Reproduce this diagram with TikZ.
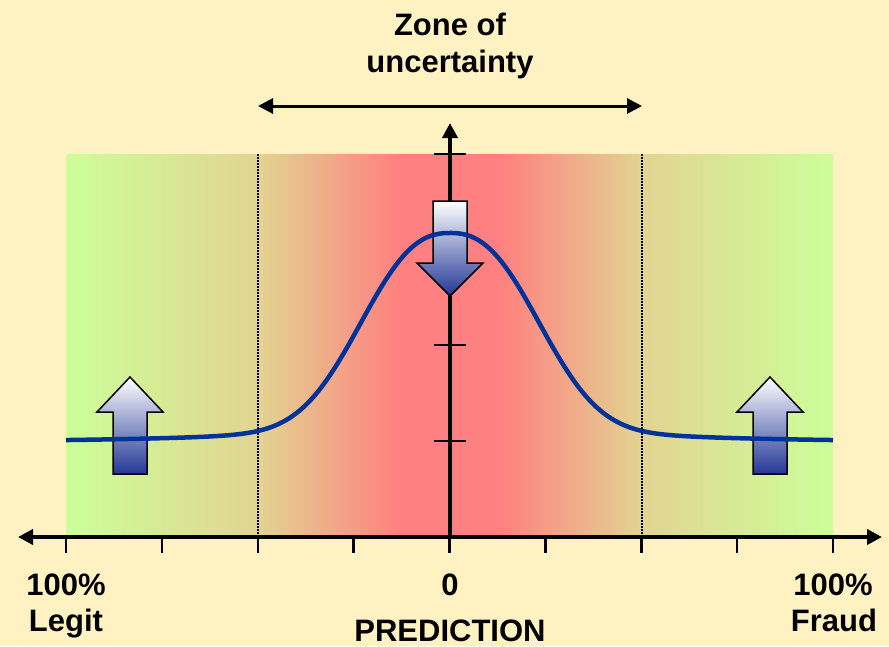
\documentclass[tikz,border=0pt]{standalone}
\usepackage{fontspec}
\setmainfont{Liberation Sans}
\usetikzlibrary{arrows.meta}
\definecolor{bgcream}{RGB}{255,242,194}
\definecolor{zgreen}{RGB}{204,255,153}
\definecolor{ztan}{RGB}{226,212,145}
\definecolor{zred}{RGB}{255,128,128}
\definecolor{curveblue}{RGB}{0,51,153}
\definecolor{arrowblue}{RGB}{35,55,150}
\pgfdeclarehorizontalshading{zoneshade}{100bp}{color(0bp)=(zgreen); color(25bp)=(zgreen); color(37.52bp)=(ztan); color(46.77bp)=(zred); color(53.29bp)=(zred); color(62.55bp)=(ztan); color(75bp)=(zgreen); color(100bp)=(zgreen)}
\begin{document}
\begin{tikzpicture}[x=1pt,y=-1pt,
  lbl/.style={font=\bfseries\fontsize{31}{37}\selectfont, inner sep=0pt, anchor=base},
  axisline/.style={line width=4pt, -{Triangle[length=15pt,width=15pt]}},
  tickline/.style={line width=2.5pt},
  zonearrow/.style={line width=3pt, {Triangle[length=15pt,width=15pt]}-{Triangle[length=15pt,width=15pt]}},
  divider/.style={line width=1.3pt, dash pattern=on 1.5pt off 1.5pt},
  blockarrow/.style={draw=black, line width=1.5pt, top color=white, bottom color=arrowblue, line join=miter},
  bellcurve/.style={draw=curveblue, line width=4.5pt}]
\useasboundingbox (0,0) rectangle (889,646);
\fill[bgcream] (0,0) rectangle (889,646);
% gradient zone
\shade[shading=zoneshade] (66,154) rectangle (833,537);
% dividers
\coordinate (dl1) at (258,154); \coordinate (dl2) at (258,537);
\coordinate (dr1) at (642,154); \coordinate (dr2) at (642,537);
\draw[divider] (dl1) -- (dl2);
\draw[divider] (dr1) -- (dr2);
% vertical axis ticks
\foreach \yy in {154,249.5,345,441} {
  \draw[tickline] (434,\yy) -- (466,\yy);
}
% horizontal axis ticks
\foreach \i in {0,...,8} {
  \draw[tickline] ({66+95.875*\i},537) -- ({66+95.875*\i},553);
}
% axes
\coordinate (origin) at (450,537);
\coordinate (xleft) at (18,537);
\coordinate (xright) at (882,537);
\coordinate (ytop) at (450,123);
\draw[axisline] (origin) -- (xleft);
\draw[axisline] (origin) -- (xright);
\draw[axisline] (origin) -- (ytop);
% zone arrow
\coordinate (zl) at (258,106);
\coordinate (zr) at (642,106);
\draw[zonearrow] (zl) -- (zr);
% block arrows
\path[blockarrow] (130,377) -- (163,412) -- (147,412) -- (147,474) -- (113,474) -- (113,412) -- (97,412) -- cycle;
\path[blockarrow] (770,377) -- (803,412) -- (787,412) -- (787,474) -- (753,474) -- (753,412) -- (737,412) -- cycle;
\path[blockarrow] (433,201) -- (467,201) -- (467,263) -- (483,263) -- (450,296) -- (417,263) -- (433,263) -- cycle;
% bell curve
\draw[bellcurve] plot[domain=66:833, samples=200, smooth]
  (\x, {443-210*(0.88*exp(-exp(2.5*ln((abs(\x-450)+0.01)/110)))+0.12/(1+((\x-450)/140)^2))});
% labels
\node[lbl] (zone1) at (450,35) {Zone of};
\node[lbl] (zone2) at (450,72) {uncertainty};
\node[lbl] (legitp) at (66,595) {100\%};
\node[lbl] (legit) at (66,631) {Legit};
\node[lbl] (zero) at (450,595) {0};
\node[lbl] (pred) at (450,641) {PREDICTION};
\node[lbl] (fraudp) at (833,595) {100\%};
\node[lbl] (fraud) at (834,631) {Fraud};
\end{tikzpicture}
\end{document}
